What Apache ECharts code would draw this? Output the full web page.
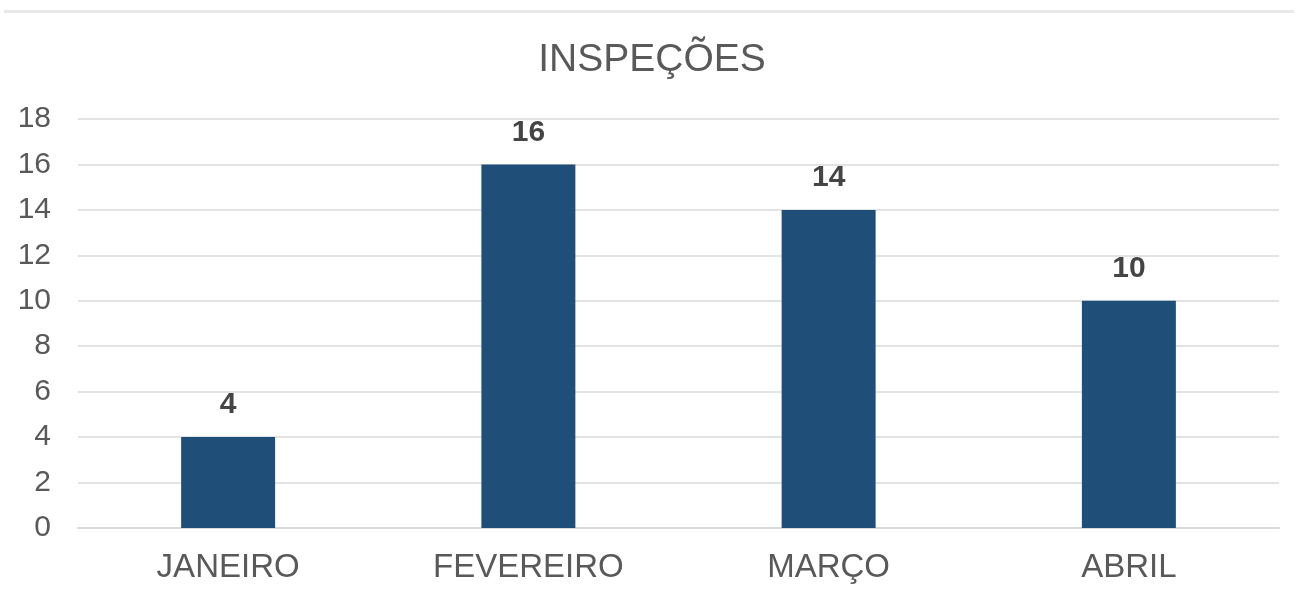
<!DOCTYPE html>
<html>
<head>
<meta charset="utf-8">
<script src="https://cdn.jsdelivr.net/npm/echarts@6/dist/echarts.min.js"></script>
<style>
html,body{margin:0;padding:0;background:#fff;}
#chart{width:1304px;height:600px;}
</style>
</head>
<body>
<div id="chart"></div>
<script>
const titleText = 'INSPEÇÕES';
const categories = ['JANEIRO', 'FEVEREIRO', 'MARÇO', 'ABRIL'];
const values = [4, 16, 14, 10];
const yMin = 0, yMax = 18, yStep = 2;

const chart = echarts.init(document.getElementById('chart'));
chart.setOption({
  animation: false,
  backgroundColor: '#ffffff',
  title: {
    text: titleText,
    left: 'center',
    top: 36,
    textStyle: {fontFamily: 'Liberation Sans', fontSize: 39, fontWeight: 'normal', color: '#595959'}
  },
  graphic: [{
    type: 'rect',
    shape: {x: 4, y: 10, width: 1290, height: 3},
    style: {fill: '#e8e8e8'}
  }],
  grid: {left: 78, right: 25, top: 119, bottom: 72, containLabel: false},
  xAxis: {
    type: 'category',
    data: categories,
    axisLine: {show: true, lineStyle: {color: '#d9d9d9', width: 2}},
    axisTick: {show: false},
    axisLabel: {fontFamily: 'Liberation Sans', fontSize: 33, color: '#595959', margin: 23}
  },
  yAxis: {
    type: 'value',
    min: yMin, max: yMax, interval: yStep,
    axisLine: {show: false},
    axisTick: {show: false},
    splitLine: {lineStyle: {color: '#e3e3e3', width: 2}},
    axisLabel: {fontFamily: 'Liberation Sans', fontSize: 30, color: '#595959', margin: 27}
  },
  series: [{
    type: 'bar',
    data: values,
    barWidth: '31.3%',
    itemStyle: {color: '#1F4E79'},
    label: {
      show: true, position: 'top', distance: 17,
      fontFamily: 'Liberation Sans', fontSize: 30, fontWeight: 'bold', color: '#454545'
    }
  }]
});
</script>
</body>
</html>
